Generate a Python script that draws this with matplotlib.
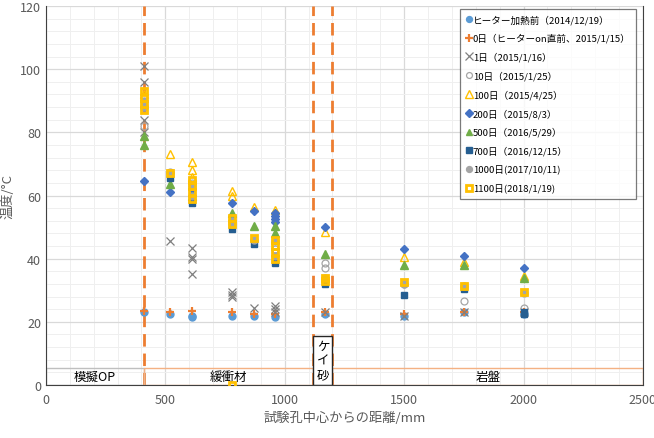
import matplotlib
matplotlib.use("Agg")
import matplotlib.pyplot as plt
from matplotlib.patches import Rectangle
from matplotlib.ticker import MultipleLocator

plt.rcParams['font.family'] = ['Noto Sans CJK JP', 'DejaVu Sans']

# (x [mm], y [°C]) per measurement day
heat0_x = [410, 520, 610, 610, 780, 870, 960, 1170, 1500, 1750, 2000]
heat0_y = [23, 22.5, 22, 21.5, 22, 22, 21.5, 22.5, 22, 23, 22.5]

d0_x = [410, 520, 610, 780, 870, 960, 1170, 1500, 1750, 2000]
d0_y = [23.5, 23, 23.5, 23, 22.5, 22.5, 23, 22.5, 23, 23]

d1_x = [410, 410, 410, 410, 520, 610, 610, 610, 610, 780, 780, 780, 870, 960, 960, 960, 1170, 1500, 1750, 2000]
d1_y = [101, 96, 84, 80, 45.5, 43.5, 40.5, 40, 35, 29.5, 28.5, 28, 24.5, 25, 24, 23, 23, 22, 23, 23]

d10_x = [410, 520, 610, 780, 870, 960, 1170, 1170, 1500, 1750, 2000]
d10_y = [82, 67.5, 64, 52, 46, 43, 38.5, 37, 32, 26.7, 24.5]

d100_x = [410, 520, 610, 610, 610, 780, 780, 870, 960, 1170, 1500, 1750, 2000]
d100_y = [92, 73, 70.5, 68, 66, 61.5, 60, 56.5, 55.5, 48.5, 40.5, 39, 34.5]

d200_x = [410, 520, 610, 780, 870, 960, 960, 960, 960, 1170, 1500, 1750, 2000]
d200_y = [64.5, 61, 62, 57.5, 55, 54.5, 53.5, 52.5, 51.5, 50, 43, 41, 37]

d500_x = [410, 410, 520, 610, 780, 870, 960, 960, 1170, 1500, 1750, 2000]
d500_y = [79, 76, 63.5, 60, 54.5, 50.5, 50.5, 48, 41.5, 38, 38, 34]

d700_x = [410, 520, 610, 780, 870, 960, 1170, 1500, 1750, 2000, 2000]
d700_y = [88, 65.5, 57.5, 49.5, 44.5, 38.5, 32, 28.5, 30.5, 23, 22.5]

d1000_x = [410, 410, 520, 610, 610, 780, 780, 870, 960, 960, 1170, 1500, 1750, 2000]
d1000_y = [90, 88, 67, 63, 60, 52, 51, 46, 45.5, 41, 34, 32, 31.5, 29]

d1100_x = [410, 410, 410, 410, 520, 610, 610, 610, 610, 780, 780, 780, 870, 960, 960, 960, 960, 1170, 1170, 1500, 1750, 2000]
d1100_y = [93, 91, 89, 87, 67, 65, 63, 61, 59, 53, 51, 0, 46.5, 46, 44, 42, 40, 34, 33, 32.5, 31.5, 29.5]

labels = ['ヒーター加熱前（2014/12/19）', '0日（ヒーターon直前、2015/1/15）', '1日（2015/1/16）',
          '10日（2015/1/25）', '100日（2015/4/25）', '200日（2015/8/3）', '500日（2016/5/29）',
          '700日（2016/12/15）', '1000日(2017/10/11)', '1100日(2018/1/19)']

boundaries = [410, 1120, 1200]

fig = plt.figure(figsize=(6.54, 4.39), dpi=100)
ax = fig.add_axes([0.0703, 0.1207, 0.9127, 0.8633])

ax.set_xlim(0, 2500)
ax.set_ylim(0, 120)
ax.xaxis.set_major_locator(MultipleLocator(500))
ax.xaxis.set_minor_locator(MultipleLocator(100))
ax.yaxis.set_major_locator(MultipleLocator(20))
ax.yaxis.set_minor_locator(MultipleLocator(4))
ax.grid(which='major', color='#d9d9d9', lw=0.9, zorder=0)
ax.grid(which='minor', color='#efefef', lw=0.7, zorder=0)
ax.set_axisbelow(True)
ax.tick_params(which='both', length=0, colors='#595959', labelsize=9)
ax.tick_params(axis='x', pad=6)
ax.spines['top'].set_visible(False)
for s in ['left', 'bottom', 'right']:
    ax.spines[s].set_color('#404040')

for b in boundaries:
    ax.axvline(b, color='#ED7D31', lw=2, ls=(0, (4.5, 2.5)), zorder=2)

# material bands
ax.add_patch(Rectangle((0, 0), 410, 5.4, fill=False, ec='#bfbfbf', lw=1, zorder=2))
ax.add_patch(Rectangle((410, 0), 710, 5.4, fill=False, ec='#F4B183', lw=1, zorder=2))
ax.add_patch(Rectangle((1200, 0), 1300, 5.4, fill=False, ec='#F4B183', lw=1, zorder=2))
ax.add_patch(Rectangle((1120, 0), 80, 15.5, fc='white', ec='#262626', lw=1, zorder=2))
ax.text(205, 2.6, '模擬OP', ha='center', va='center', fontsize=9, zorder=3)
ax.text(765, 2.6, '緩衝材', ha='center', va='center', fontsize=9, zorder=3)
ax.text(1850, 2.6, '岩盤', ha='center', va='center', fontsize=9, zorder=3)
ax.text(1160, 7.8, 'ケ\nイ\n砂', ha='center', va='center', fontsize=9, linespacing=1.1, zorder=3)

ms = 5
ax.plot(heat0_x, heat0_y, 'o', ms=ms, color='#5B9BD5', label=labels[0], zorder=4)
ax.plot(d0_x, d0_y, '+', ms=6, mew=1.6, color='#ED7D31', label=labels[1], zorder=4)
ax.plot(d1_x, d1_y, 'x', ms=6, mew=0.9, color='#7F7F7F', label=labels[2], zorder=4)
ax.plot(d10_x, d10_y, 'o', ms=ms, mfc='none', mec='#A5A5A5', mew=0.9, label=labels[3], zorder=4)
ax.plot(d100_x, d100_y, '^', ms=6, mfc='none', mec='#FFC000', mew=1.0, label=labels[4], zorder=4)
ax.plot(d200_x, d200_y, 'D', ms=4.5, color='#4472C4', label=labels[5], zorder=4)
ax.plot(d500_x, d500_y, '^', ms=5.5, color='#70AD47', label=labels[6], zorder=4)
ax.plot(d700_x, d700_y, 's', ms=4.8, color='#255E91', label=labels[7], zorder=4)
ax.plot(d1000_x, d1000_y, 'o', ms=ms, color='#A5A5A5', label=labels[8], zorder=4)
ax.plot(d1100_x, d1100_y, 's', ms=5, mfc='none', mec='#FFC000', mew=2, label=labels[9], zorder=4)

leg = ax.legend(loc='upper right', bbox_to_anchor=(0.989, 0.993), fontsize=6.9, frameon=True,
                fancybox=False, edgecolor='#595959', handlelength=0.5, handletextpad=0.2,
                borderpad=0.6, labelspacing=0.95, borderaxespad=0, markerscale=0.85)
leg.get_frame().set_linewidth(0.9)

ax.set_xlabel('試験孔中心からの距離/mm', fontsize=9.5, color='#595959', labelpad=3)
ax.set_ylabel('温度/°C', fontsize=9.5, color='#595959', labelpad=4)

fig.savefig('out.png', dpi=100)
